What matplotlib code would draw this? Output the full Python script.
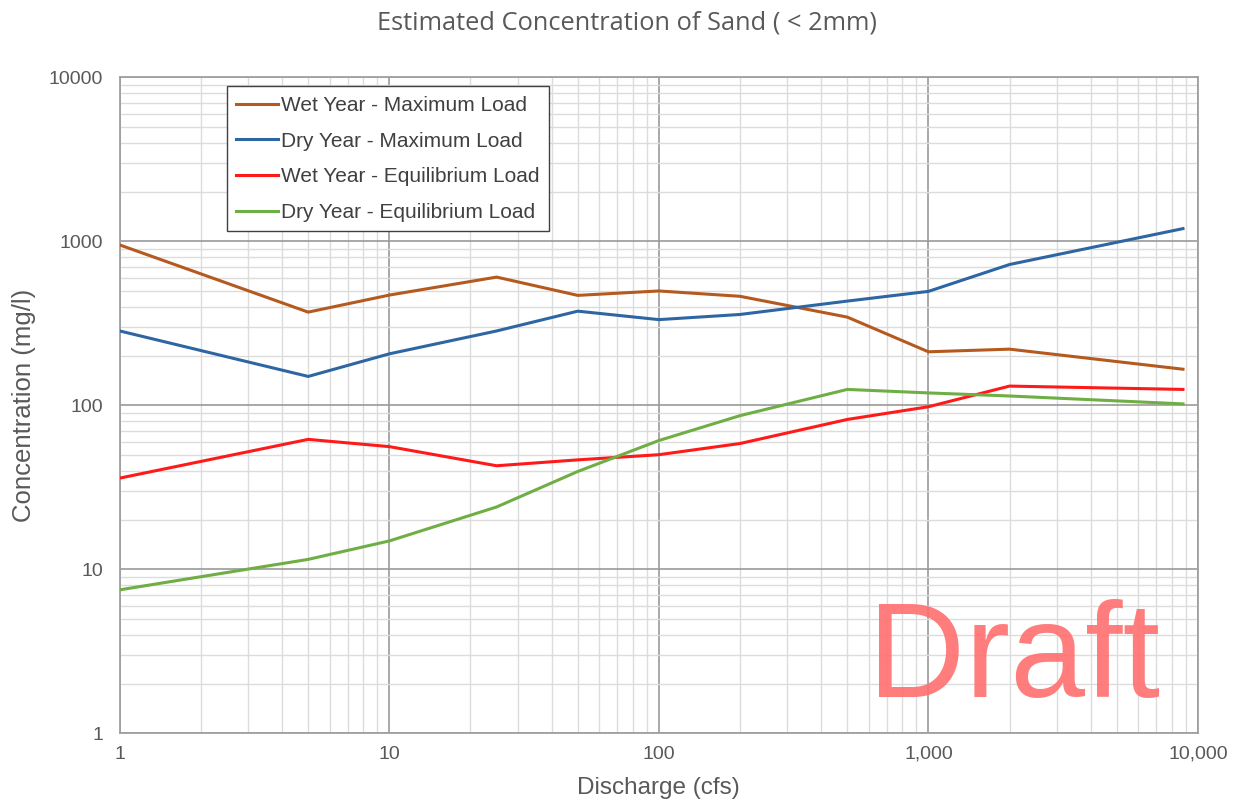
import matplotlib
matplotlib.use("Agg")
import matplotlib.pyplot as plt
from matplotlib.ticker import FixedLocator, FixedFormatter, LogLocator, NullFormatter

plt.rcParams['font.family'] = ['Liberation Sans', 'DejaVu Sans']

discharge = [1, 5, 10, 25, 50, 100, 200, 500, 1000, 2000, 8800]
wet_max = [950, 370, 470, 605, 468, 498, 462, 345, 212, 220, 166]
dry_max = [284, 150, 206, 284, 375, 333, 358, 432, 495, 722, 1195]
wet_eq = [36, 62, 56, 42.8, 46.5, 50, 58.5, 82, 98, 131, 125]
dry_eq = [7.5, 11.5, 14.9, 24, 39.5, 61, 86.5, 125, 119, 114, 102]

series_names = ["Wet Year - Maximum Load", "Dry Year - Maximum Load",
                "Wet Year - Equilibrium Load", "Dry Year - Equilibrium Load"]
colors = ["#B55A1E", "#2E65A3", "#FF1A1A", "#6FAE45"]

x_ticks = [1, 10, 100, 1000, 10000]
x_labels = ["1", "10", "100", "1,000", "10,000"]
y_ticks = [1, 10, 100, 1000, 10000]
y_labels = ["1", "10", "100", "1000", "10000"]

fig = plt.figure(figsize=(12.35, 8.05), dpi=100)
ax = fig.add_axes([0.097, 0.089, 0.873, 0.815])

for vals, name, c in zip([wet_max, dry_max, wet_eq, dry_eq], series_names, colors):
    ax.plot(discharge, vals, color=c, lw=2.2, label=name, zorder=3)

ax.set_xscale('log')
ax.set_yscale('log')
ax.set_xlim(1, 10000)
ax.set_ylim(1, 10000)

ax.xaxis.set_major_locator(FixedLocator(x_ticks))
ax.xaxis.set_major_formatter(FixedFormatter(x_labels))
ax.yaxis.set_major_locator(FixedLocator(y_ticks))
ax.yaxis.set_major_formatter(FixedFormatter(y_labels))
ax.xaxis.set_minor_locator(LogLocator(base=10, subs=range(2, 10)))
ax.yaxis.set_minor_locator(LogLocator(base=10, subs=range(2, 10)))
ax.xaxis.set_minor_formatter(NullFormatter())
ax.yaxis.set_minor_formatter(NullFormatter())

ax.grid(which='major', color='#9a9a9a', lw=1.2, zorder=1)
ax.grid(which='minor', color='#dcdcdc', lw=1.0, zorder=0)
for s in ax.spines.values():
    s.set_color('#a0a0a0')
    s.set_linewidth(1.3)
ax.tick_params(which='both', length=0, colors='#595959', labelsize=14)
ax.tick_params(axis='x', pad=9)
ax.tick_params(axis='y', pad=12)

ax.set_xlabel("Discharge (cfs)", fontsize=17.5, color='#595959', labelpad=10)
ax.set_ylabel("Concentration (mg/l)", fontsize=18.5, color='#595959', labelpad=9)
fig.text(0.508, 0.971, "Estimated Concentration of Sand ( < 2mm)", ha='center', va='center',
         fontsize=18.3, color='#595959', family=['Open Sans', 'DejaVu Sans'])

leg = ax.legend(loc='upper left', bbox_to_anchor=(0.099, 0.986), fontsize=15,
                frameon=True, fancybox=False, edgecolor='#404040', framealpha=1,
                handlelength=2.0, handletextpad=0.15, borderpad=0.45, labelspacing=0.8,
                borderaxespad=0)
leg.get_frame().set_linewidth(1.0)
for t in leg.get_texts():
    t.set_color('#404040')

ax.text(0.965, 0.055, "Draft", transform=ax.transAxes, ha='right', va='baseline',
        fontsize=97, color='#FF6F6F', alpha=0.9, zorder=5)

fig.savefig("out.png", dpi=100)
